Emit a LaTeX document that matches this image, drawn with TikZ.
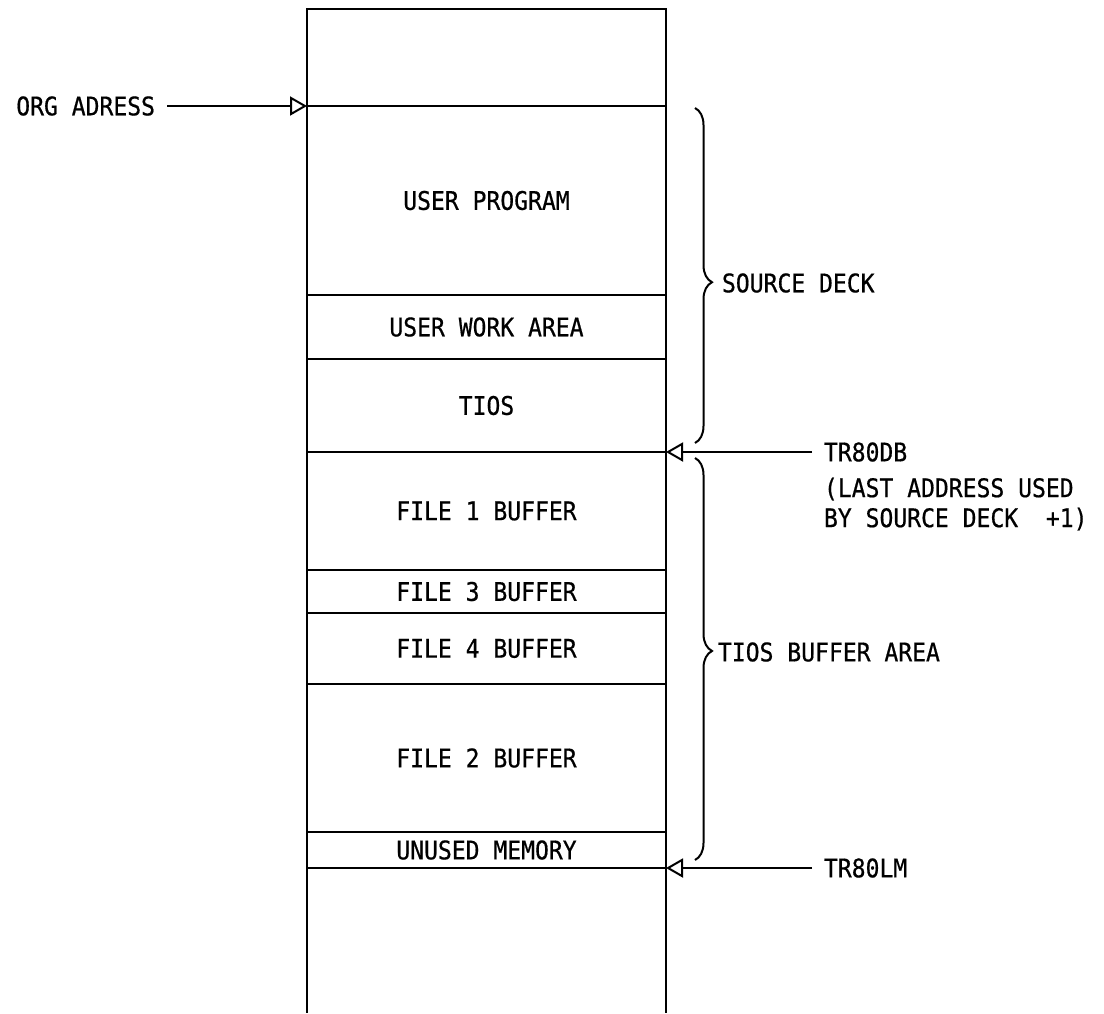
\documentclass[tikz,border=0pt]{standalone}
\usepackage{fontspec}
\setmainfont[FakeStretch=0.9,FakeBold=0.6]{DejaVu Sans Mono}
\usetikzlibrary{arrows.meta,decorations.pathreplacing,positioning}
\tikzset{every path/.style={black,line width=1pt}, txt/.style={inner sep=0pt, outer sep=0pt, font=\fontsize{12.8}{15}\selectfont},
  blk/.style={txt, draw, minimum width=179.5pt}, tag/.style={txt, inner xsep=6pt},
  ptr/.style={-{Triangle[open,length=8.5pt,width=9.5pt]}}, brc/.style={decorate, decoration={brace,amplitude=8.5pt}}}

\begin{document}
\begin{tikzpicture}[x=0.5pt,y=-0.5pt]
   \useasboundingbox (0,0) rectangle (1104,1013);
   \node[blk, minimum height=48.5pt, anchor=north west] (top) at (307,9) {};
   \node[blk, minimum height=94.5pt, below=0pt of top] (prog) {USER PROGRAM};
   \node[blk, minimum height=32pt, below=0pt of prog] (work) {USER WORK AREA};
   \node[blk, minimum height=46.5pt, below=0pt of work] (tios) {TIOS};
   \node[blk, minimum height=59pt, below=0pt of tios] (f1) {FILE 1 BUFFER};
   \node[blk, minimum height=21.5pt, below=0pt of f1] (f3) {FILE 3 BUFFER};
   \node[blk, minimum height=35.5pt, below=0pt of f3] (f4) {FILE 4 BUFFER};
   \node[blk, minimum height=74pt, below=0pt of f4] (f2) {FILE 2 BUFFER};
   \node[blk, minimum height=18pt, below=0pt of f2] (unused) {UNUSED MEMORY};
   \coordinate (bl) at (307,1013);
   \coordinate (br) at (666,1013);
   \draw (unused.south west) -- (bl);
   \draw (unused.south east) -- (br);

   \node[tag, anchor=east] (org) at (167,106) {ORG ADRESS};
   \draw[ptr] (org.east) -- (prog.north west);
   \node[tag, anchor=west] (db) at (812,452) {TR80DB};
   \node[tag, align=left, below=8pt of db.south west, anchor=north west] (dbnote) {(LAST ADDRESS USED\\BY SOURCE DECK\ \ +1)};
   \draw[ptr] (db.west) -- (tios.south east);
   \node[tag, anchor=west] (lm) at (812,868) {TR80LM};
   \draw[ptr] (lm.west) -- (unused.south east);

   \draw[brc, decoration={aspect=0.52}] (695,108) -- (695,443);
   \draw[brc, decoration={aspect=0.48}] (695,458) -- (695,860);
   \node[txt, anchor=west] (src) at (722,283) {SOURCE DECK};
   \node[txt, anchor=west] (buf) at (718,652) {TIOS BUFFER AREA};
\end{tikzpicture}
\end{document}
